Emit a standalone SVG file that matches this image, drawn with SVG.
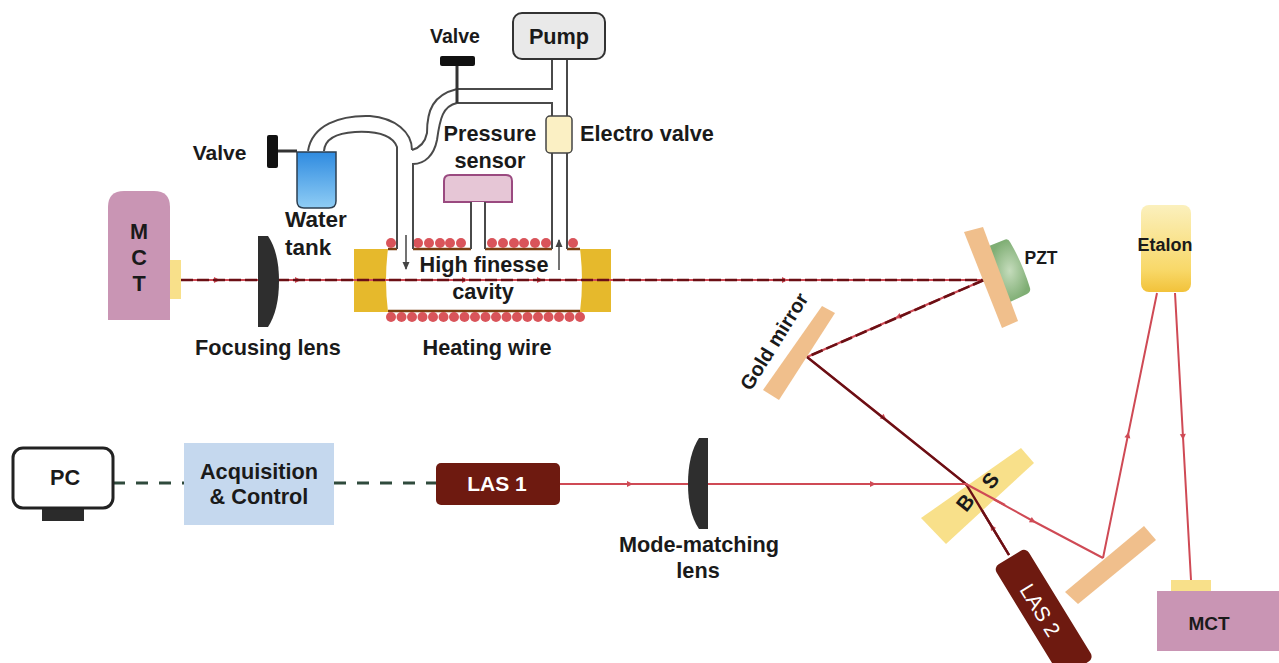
<svg xmlns="http://www.w3.org/2000/svg" width="1279" height="663" viewBox="0 0 1279 663">
<style>
text{font-family:"Liberation Sans",Arial,sans-serif;font-weight:700;fill:#1a1a1a;font-size:21.700px;text-anchor:middle}
.pipe{fill:none;stroke:#4a4a4a;stroke-width:2}
.wall{fill:none;stroke:#7a3f12;stroke-width:2.500}
.coil{fill:#d9545a}
.mirror{fill:#f0bf8c}
.pink{fill:#c995b4}
.lens{fill:#2e2e2e}
.beam{fill:none;stroke:#cf4a55;stroke-width:2;marker-mid:url(#ah)}
.dark{fill:none;stroke:#6b0f14;stroke-width:2.600;stroke-dasharray:12 4}
.ctl{fill:none;stroke:#2f4a3c;stroke-width:3.200;stroke-dasharray:12 11}
.yel{fill:#f8e08a}
</style>
<defs>
<marker id="ah" markerWidth="8" markerHeight="8" refX="4" refY="4" orient="auto" markerUnits="userSpaceOnUse"><path d="M1 1L7 4L1 7Z" fill="#cf4a55"/></marker>
<marker id="thin" markerWidth="8" markerHeight="10" refX="7" refY="4" orient="auto" markerUnits="userSpaceOnUse"><path d="M0 0.500L8 4L0 7.500Z" fill="#444"/></marker>
<linearGradient id="tank" x1="0" y1="0" x2="0" y2="1"><stop offset="0" stop-color="#2f8be0"/><stop offset="1" stop-color="#8fcdf5"/></linearGradient>
<linearGradient id="et" x1="0" y1="0" x2="0" y2="1"><stop offset="0" stop-color="#fbf0bd"/><stop offset="0.750" stop-color="#f8d868"/><stop offset="1" stop-color="#f2c23a"/></linearGradient>
<radialGradient id="pzt"><stop offset="0" stop-color="#c5dcbc"/><stop offset="1" stop-color="#7fae74"/></radialGradient>
</defs>

<g id="cavity">
<path fill="#e6b92c" d="M354 249H388Q384 280 388 312H354Z"/>
<path fill="#e6b92c" d="M580 249H611V312H580Q584 280 580 249Z"/>
<path class="wall" d="M388 249H397M413 249H471M485 249H552M567 249H580M388 311H580"/>
<g class="coil">
<circle cx="391" cy="243" r="5"/><circle cx="418" cy="243" r="5"/><circle cx="429" cy="243" r="5"/><circle cx="440" cy="243" r="5"/><circle cx="450" cy="243" r="5"/><circle cx="461" cy="243" r="5"/>
<circle cx="492" cy="243" r="5"/><circle cx="503" cy="243" r="5"/><circle cx="514" cy="243" r="5"/><circle cx="524" cy="243" r="5"/><circle cx="535" cy="243" r="5"/><circle cx="546" cy="243" r="5"/><circle cx="573" cy="243" r="5"/>
<circle cx="391" cy="317" r="5"/><circle cx="401.500" cy="317" r="5"/><circle cx="412" cy="317" r="5"/><circle cx="422.500" cy="317" r="5"/><circle cx="433" cy="317" r="5"/><circle cx="443.500" cy="317" r="5"/><circle cx="454" cy="317" r="5"/><circle cx="464.500" cy="317" r="5"/><circle cx="475" cy="317" r="5"/><circle cx="485.500" cy="317" r="5"/><circle cx="496" cy="317" r="5"/><circle cx="506.500" cy="317" r="5"/><circle cx="517" cy="317" r="5"/><circle cx="527.500" cy="317" r="5"/><circle cx="538" cy="317" r="5"/><circle cx="548.500" cy="317" r="5"/><circle cx="559" cy="317" r="5"/><circle cx="569.500" cy="317" r="5"/><circle cx="580" cy="317" r="5"/>
</g>
<path d="M406 235V269" stroke="#444" stroke-width="1.500" marker-end="url(#thin)" fill="none"/>
<path d="M559 270V240" stroke="#444" stroke-width="1.500" marker-end="url(#thin)" fill="none"/>
<text x="484" y="272">High finesse</text>
<text x="483" y="299">cavity</text>
<text x="487" y="355">Heating wire</text>
</g>

<g id="connectors">
<polyline class="beam" points="181,280 217,280 298,280 465,280 540,280 785,280 984,280"/>
<path class="dark" d="M181 280H984"/>
<polyline class="beam" points="984,280 898,317 807,357"/>
<path class="dark" d="M984 280L807 357"/>
<polyline class="beam" points="807,357 884,418 966,484"/>
<path d="M807 357L966 484L1009 555" fill="none" stroke="#6b0f14" stroke-width="2.400"/>
<polyline class="beam" points="560,484 630,484 873,484 966,484"/>
<polyline class="beam" points="1009,555 992,527 966,484"/>
<polyline class="beam" points="966,484 1033,521 1103,558"/>
<polyline class="beam" points="1103,558 1128,435 1157,293"/>
<polyline class="beam" points="1175,293 1183,437 1191,580"/>
<path class="ctl" d="M113 483H186"/>
<path class="ctl" d="M334 483H436"/>
</g>

<g id="mct-left">
<path class="pink" d="M108 320V207Q108 191 124 191H154Q170 191 170 207V320Z"/>
<rect class="yel" x="170" y="260" width="11" height="39"/>
<text x="139" y="239">M</text><text x="139" y="265">C</text><text x="139" y="291">T</text>
</g>

<g id="focusing-lens">
<path class="lens" d="M258 236H268Q279 252 279 281Q279 310 268 327H258Z"/>
<text x="268" y="355">Focusing lens</text>
</g>

<g id="pipes">
<path class="pipe" d="M552 59V89H457C433 95 427 110 427 133C425 143 419 148 412 150"/>
<path class="pipe" d="M552 116V103H457C443 106 440 118 437 140C434 155 425 164 413 164V249"/>
<path class="pipe" d="M552 153V249M567 59V116M567 153V249"/>
<path class="pipe" d="M397 249V147C392 134 375 131 355 132C338 133 325 138 324 151"/>
<path class="pipe" d="M308 151C312 125 340 115 370 116C395 118 412 132 412 150"/>
</g>

<g id="pump">
<rect x="513" y="13" width="92" height="46" rx="9" fill="#e9e9e9" stroke="#333" stroke-width="2"/>
<text x="559" y="44">Pump</text>
</g>

<g id="valve-top">
<rect x="440" y="56" width="35" height="10" rx="2" fill="#111"/>
<path d="M457 66V103" stroke="#333" stroke-width="3"/>
<text x="455" y="43" style="font-size:19.500px">Valve</text>
</g>

<g id="electro-valve">
<rect x="546" y="116" width="26" height="37" rx="4" fill="#fbf0c4" stroke="#444" stroke-width="1.500"/>
<text x="647" y="141">Electro valve</text>
</g>

<g id="pressure-sensor">
<path d="M444 202V181Q444 175 450 175H506Q512 175 512 181V202Z" fill="#e6c6d6" stroke="#9a4a80" stroke-width="2"/>
<rect x="472" y="202" width="12" height="46" fill="#fff"/>
<path class="pipe" d="M471 202V249M485 202V249"/>
<text x="490" y="141">Pressure</text>
<text x="490" y="168">sensor</text>
</g>

<g id="water-tank">
<path d="M297 152H336V201Q336 208 329 208H304Q297 208 297 201Z" fill="url(#tank)" stroke="#2d3f50" stroke-width="1.500"/>
<rect x="267" y="135" width="11" height="33" rx="2" fill="#111"/>
<path d="M278 151H297" stroke="#333" stroke-width="3"/>
<text x="219.500" y="160" style="font-size:21px">Valve</text>
<text x="285" y="227" style="text-anchor:start;font-size:22.500px">Water</text>
<text x="285" y="255" style="text-anchor:start;font-size:22.500px">tank</text>
</g>

<g id="pzt-mirror">
<path fill="url(#pzt)" d="M989 246L1004 240Q1008 238 1010 242Q1022 262 1030 288Q1031 292 1027 294L1010 302Z"/>
<polygon class="mirror" points="964,232 983,227 1018,321 1002,328"/>
<text x="1041" y="264" style="font-size:17.500px">PZT</text>
</g>

<g id="gold-mirror">
<polygon class="mirror" points="822,306 835,313 779,400 763,390"/>
<text transform="translate(780,345) rotate(-58)" style="font-size:20px">Gold mirror</text>
</g>

<g id="etalon">
<rect x="1141" y="205" width="50" height="87" rx="8" fill="url(#et)"/>
<text x="1165" y="251" style="font-size:18px">Etalon</text>
</g>

<g id="mct-right">
<rect class="yel" x="1171" y="580" width="40" height="11"/>
<rect class="pink" x="1157" y="591" width="122" height="60"/>
<text x="1209" y="630" style="font-size:19px">MCT</text>
</g>

<g id="beam-splitter">
<polygon class="yel" points="1021,448 1034,463 946,544 921,518"/>
<path d="M966 484L1009 555" fill="none" stroke="#6b0f14" stroke-width="2.400"/>
<path d="M966 484L1005 505" fill="none" stroke="#cf4a55" stroke-width="2"/>
<path d="M966 484L960 484" fill="none" stroke="#cf4a55" stroke-width="2"/>
<text transform="translate(971,507) rotate(-52)" style="font-size:21px">B</text>
<text transform="translate(996,485) rotate(-52)" style="font-size:21px">S</text>
</g>

<g id="fold-mirror">
<polygon class="mirror" points="1144,526 1156,540 1078,604 1065,592"/>
</g>

<g id="las-2">
<rect x="-58" y="-19" width="130" height="38" rx="6" transform="translate(1040,607) rotate(58.500)" fill="#6e1a10"/>
<text transform="translate(1034,614) rotate(58.500)" style="font-size:21px;fill:#fff;font-weight:400">LAS 2</text>
</g>

<g id="las-1">
<rect x="436" y="463" width="124" height="42" rx="5" fill="#6e1a10"/>
<text x="497" y="491" style="font-size:21px;fill:#fff">LAS 1</text>
</g>

<g id="mode-matching-lens">
<path class="lens" d="M708 438H699Q688 455 688 484Q688 513 699 529H708Z"/>
<text x="699" y="552">Mode-matching</text>
<text x="698" y="578">lens</text>
</g>

<g id="acquisition">
<rect x="184" y="443" width="150" height="82" fill="#c5d8ee"/>
<text x="259" y="479">Acquisition</text>
<text x="259" y="504">&amp; Control</text>
</g>

<g id="pc">
<rect x="42" y="508" width="42" height="13" fill="#2b2b2b"/>
<rect x="13" y="448" width="100" height="60" rx="10" fill="#fff" stroke="#222" stroke-width="3"/>
<text x="65" y="485">PC</text>
</g>
</svg>
